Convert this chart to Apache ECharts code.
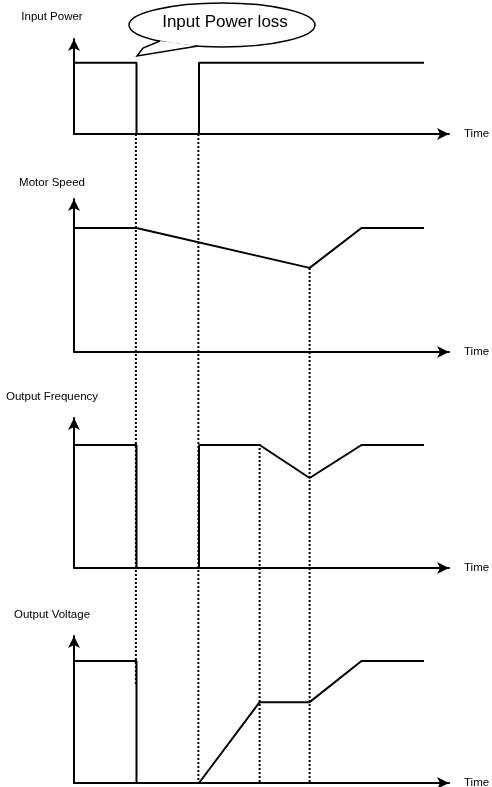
<!DOCTYPE html>
<html>
<head>
<meta charset="utf-8">
<script src="https://cdn.jsdelivr.net/npm/echarts@6/dist/echarts.min.js"></script>
<style>
  html, body { margin: 0; padding: 0; background: #fff; }
  #main { width: 492px; height: 787px; }
</style>
</head>
<body>
<div id="main"></div>
<script>
// time runs 0..12 on every panel, level 0..100
var panelNames = ['Input Power', 'Motor Speed', 'Output Frequency', 'Output Voltage'];
var inputPowerTime = [0, 2, 2, 4, 4, 11.2];
var inputPowerLevel = [75, 75, 0, 0, 75, 75];
var motorSpeedTime = [0, 2, 7.54, 9.2, 11.2];
var motorSpeedLevel = [81, 81, 55, 81, 81];
var outFreqTime = [0, 2, 2, 4, 4, 5.94, 7.54, 9.2, 11.2];
var outFreqLevel = [82, 82, 0, 0, 82, 82, 60, 82, 82];
var outVoltTime = [0, 2, 2, 4, 5.94, 7.54, 9.2, 11.2];
var outVoltLevel = [83, 83, 0, 0, 55, 55, 83, 83];
// dotted guides (time, from / to on the full-height overlay axis)
var guideTime = [1.98, 3.98, 5.94, 7.54];
var guideFrom = [134, 134, 444, 268];
var guideTo = [685, 783, 783, 783];
var calloutText = 'Input Power loss';
var timeName = 'Time';

var FONT = "'Liberation Sans', Arial, sans-serif";

function zip(xs, ys) {
    var out = [];
    for (var i = 0; i < xs.length; i++) out.push([xs[i], ys[i]]);
    return out;
}

var panelData = [
    zip(inputPowerTime, inputPowerLevel),
    zip(motorSpeedTime, motorSpeedLevel),
    zip(outFreqTime, outFreqLevel),
    zip(outVoltTime, outVoltLevel)
];

// layout of the four panels
var panelTop = [39, 199, 418, 636];
var panelHeight = [95, 153, 150, 147];
var nameGap = [22, 16, 21, 21];

var axisLine = {
    show: true,
    symbol: ['none', 'arrow'],
    symbolSize: [9, 12],
    lineStyle: { color: '#000', width: 2 }
};

var grids = [], xAxes = [], yAxes = [], series = [];
for (var i = 0; i < 4; i++) {
    grids.push({ left: 74, width: 375, top: panelTop[i], height: panelHeight[i], containLabel: false, outerBoundsMode: 'none' });
    xAxes.push({
        type: 'value', gridIndex: i, min: 0, max: 12,
        name: timeName, nameLocation: 'end', nameGap: 15,
        nameTextStyle: { color: '#000', fontFamily: FONT, fontSize: 11.5, align: 'left', verticalAlign: 'middle' },
        axisLine: axisLine, axisTick: { show: false }, axisLabel: { show: false }, splitLine: { show: false }
    });
    yAxes.push({
        type: 'value', gridIndex: i, min: 0, max: 100,
        name: panelNames[i], nameLocation: 'end', nameGap: nameGap[i],
        nameTextStyle: { color: '#000', fontFamily: FONT, fontSize: 11.5, align: 'center', verticalAlign: 'middle', padding: [0, 44, 0, 0] },
        axisLine: axisLine, axisTick: { show: false }, axisLabel: { show: false }, splitLine: { show: false }
    });
    series.push({
        type: 'line', xAxisIndex: i, yAxisIndex: i,
        data: panelData[i], symbol: 'none', clip: false,
        lineStyle: { color: '#000', width: 2 }, z: 5
    });
}

// overlay for dotted guides spanning all panels
grids.push({ left: 74, width: 375, top: 0, height: 787, outerBoundsMode: 'none' });
xAxes.push({ type: 'value', gridIndex: 4, min: 0, max: 12, show: false });
yAxes.push({ type: 'value', gridIndex: 4, min: 0, max: 787, inverse: true, show: false });
for (var g = 0; g < guideTime.length; g++) {
    series.push({
        type: 'line', xAxisIndex: 4, yAxisIndex: 4,
        data: [[guideTime[g], guideFrom[g]], [guideTime[g], guideTo[g]]],
        symbol: 'none', clip: false,
        lineStyle: { color: '#000', width: 2, type: [2, 2] }, z: 3
    });
}

var chart = echarts.init(document.getElementById('main'), null, { renderer: 'canvas' });
chart.setOption({
    backgroundColor: '#fff',
    animation: false,
    grid: grids,
    xAxis: xAxes,
    yAxis: yAxes,
    series: series,
    graphic: [
        {
            type: 'ellipse', z: 20,
            shape: { cx: 222, cy: 25, rx: 93, ry: 22 },
            style: { fill: '#fff', stroke: '#000', lineWidth: 1.5 }
        },
        {
            type: 'polygon', z: 21,
            shape: { points: [[160, 41], [143, 48], [137, 56], [198, 46]] },
            style: { fill: '#fff', stroke: null }
        },
        {
            type: 'polyline', z: 22,
            shape: { points: [[160, 41], [143, 48], [137, 56], [198, 46]] },
            style: { stroke: '#000', lineWidth: 1.5, fill: null }
        },
        {
            type: 'text', z: 23, x: 225, y: 22,
            style: { text: calloutText, fill: '#000', font: '17px ' + FONT, textAlign: 'center', textVerticalAlign: 'middle' }
        }
    ]
});
</script>
</body>
</html>
